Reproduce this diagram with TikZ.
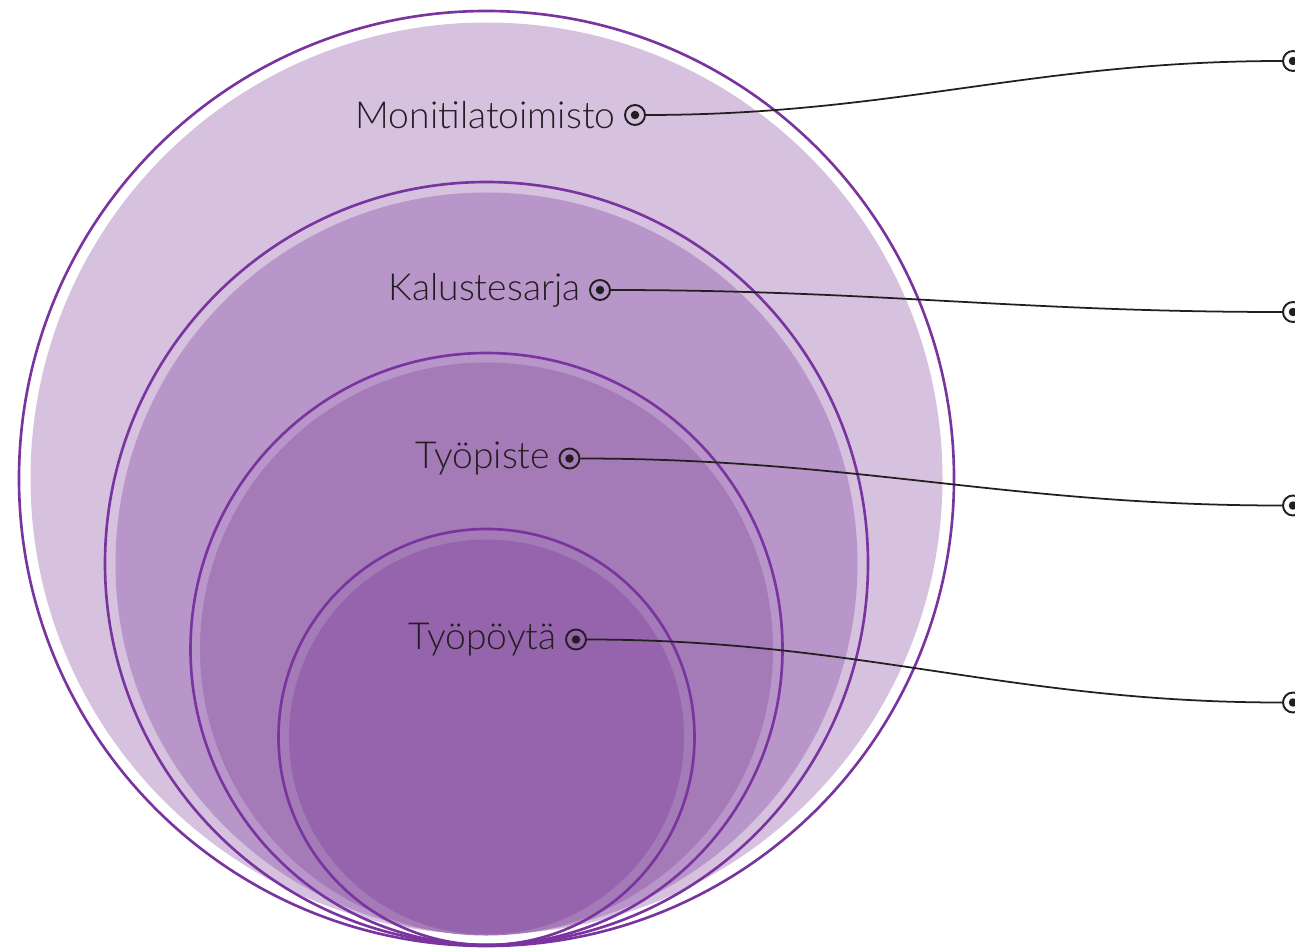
\documentclass[tikz,border=0pt]{standalone}
\usepackage{fontspec}
\setmainfont{Lato}[UprightFont=* Light]
\definecolor{rim}{HTML}{7A349F}
\definecolor{fillA}{HTML}{D6C1DF}
\definecolor{fillB}{HTML}{B996C9}
\definecolor{fillC}{HTML}{A47AB7}
\definecolor{fillD}{HTML}{9664AC}
\definecolor{ink}{HTML}{231F20}
\begin{document}
\begin{tikzpicture}[
  rimline/.style={draw=rim, line width=1.5pt},
  bullseye/.style={circle, draw=ink, line width=1.1pt, minimum size=0.4cm, inner sep=0pt,
    path picture={\fill[ink] (path picture bounding box.center) circle(0.085cm);}},
  link/.style={draw=ink, line width=1pt},
  every label/.style={text=ink, font=\fontsize{21.2}{26}\selectfont, inner sep=1pt},
  label distance=0.13cm]

\useasboundingbox (0,0) rectangle (25.9,18.98);

% Set A
\fill[fillA] (9.73,9.41) circle(9.12cm);
\draw[rimline] (9.73,9.41) circle(9.35cm);

% Set B
\fill[fillB] (9.73,7.71) circle(7.42cm);
\draw[rimline] (9.73,7.71) circle(7.63cm);

% Set C
\fill[fillC] (9.73,6.00) circle(5.73cm);
\draw[rimline] (9.73,6.00) circle(5.92cm);

% Set D
\fill[fillD] (9.73,4.24) circle(3.95cm);
\draw[rimline] (9.73,4.24) circle(4.16cm);

\node[bullseye, label={left:Monitilatoimisto}] (A) at (12.70,16.68) {};
\node[bullseye, label={left:Kalustesarja}]     (B) at (12.00,13.18) {};
\node[bullseye, label={left:Työpiste}]         (C) at (11.39,9.81) {};
\node[bullseye, label={left:Työpöytä}]         (D) at (11.52,6.19) {};

\node[bullseye] (W) at (25.86,17.76) {};
\node[bullseye] (X) at (25.86,12.74) {};
\node[bullseye] (Y) at (25.86,8.87) {};
\node[bullseye] (Z) at (25.86,4.93) {};

\draw[link] (A) to[out=0,in=180] (W);
\draw[link] (B) to[out=0,in=180] (X);
\draw[link] (C) to[out=0,in=180] (Y);
\draw[link] (D) to[out=0,in=180] (Z);

\end{tikzpicture}
\end{document}
